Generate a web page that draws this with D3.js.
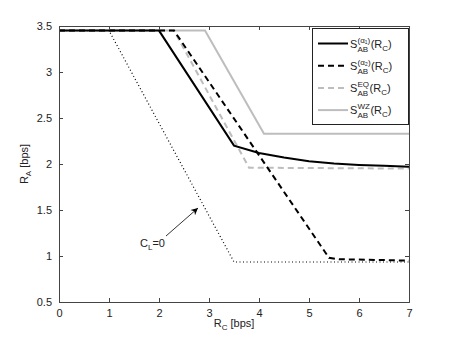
<!DOCTYPE html>
<html>
<head>
<meta charset="utf-8">
<script src="https://cdn.jsdelivr.net/npm/d3@7"></script>
<style>
  body { margin: 0; background: #fff; }
  text { font-family: "Liberation Sans", Arial, sans-serif; fill: #222; }
</style>
</head>
<body>
<svg width="452" height="340"></svg>
<script>
// series values
let rcAlpha1 = [0, 2, 3.5, 4, 4.5, 5, 5.5, 6, 6.5, 7];
let raAlpha1 = [3.45, 3.45, 2.2, 2.12, 2.07, 2.03, 2.005, 1.99, 1.98, 1.97];

let rcAlpha2 = [0, 2.3, 5.4, 5.6, 7];
let raAlpha2 = [3.45, 3.45, 0.98, 0.965, 0.95];

let rcEQ = [0, 2.3, 3.8, 7];
let raEQ = [3.45, 3.45, 1.96, 1.95];

let rcWZ = [0, 2.92, 4.1, 7];
let raWZ = [3.45, 3.45, 2.33, 2.33];

let rcCL0 = [0, 1, 3.5, 7];
let raCL0 = [3.45, 3.45, 0.935, 0.935];

let xTicks = [0, 1, 2, 3, 4, 5, 6, 7];
let yTicks = [0.5, 1, 1.5, 2, 2.5, 3, 3.5];

let svg = d3.select("svg");
let plotLeft = 59, plotRight = 409, plotTop = 26, plotBottom = 302;

let x = d3.scaleLinear().domain([0, 7]).range([plotLeft, plotRight]);
let y = d3.scaleLinear().domain([0.5, 3.5]).range([plotBottom, plotTop]);

let series = [
  { xs: rcCL0, ys: raCL0, color: "#000", width: 1.2, dash: "1,2.5" },
  { xs: rcWZ, ys: raWZ, color: "#bdbdbd", width: 2, dash: null },
  { xs: rcEQ, ys: raEQ, color: "#bdbdbd", width: 2, dash: "6,4" },
  { xs: rcAlpha2, ys: raAlpha2, color: "#000", width: 2, dash: "6,4" },
  { xs: rcAlpha1, ys: raAlpha1, color: "#000", width: 2, dash: null }
];

let line = d3
  .line()
  .x((d) => x(d[0]))
  .y((d) => y(d[1]));

svg
  .selectAll("path.series")
  .data(series)
  .enter()
  .append("path")
  .attr("class", "series")
  .attr("d", (s) => line(s.xs.map((v, i) => [v, s.ys[i]])))
  .attr("fill", "none")
  .attr("stroke", (s) => s.color)
  .attr("stroke-width", (s) => s.width)
  .attr("stroke-dasharray", (s) => s.dash);

// axes box, ticks inward on all sides
let gx = svg.append("g").attr("transform", `translate(0,${plotBottom})`)
  .call(d3.axisBottom(x).tickValues(xTicks).tickSize(-4).tickPadding(7).tickFormat(d3.format("")));
let gxTop = svg.append("g").attr("transform", `translate(0,${plotTop})`)
  .call(d3.axisTop(x).tickValues(xTicks).tickSize(-4).tickFormat(""));
let gy = svg.append("g").attr("transform", `translate(${plotLeft},0)`)
  .call(d3.axisLeft(y).tickValues(yTicks).tickSize(-4).tickPadding(7).tickFormat(d3.format("")));
let gyRight = svg.append("g").attr("transform", `translate(${plotRight},0)`)
  .call(d3.axisRight(y).tickValues(yTicks).tickSize(-4).tickFormat(""));

[gx, gxTop, gy, gyRight].forEach((g) => {
  g.select(".domain").attr("stroke", "#444");
  g.selectAll(".tick line").attr("stroke", "#444");
  g.selectAll("text").attr("font-size", 11).attr("fill", "#222")
    .style("font-family", "'Liberation Sans', Arial, sans-serif");
});

// axis labels
let xl = svg.append("text").attr("x", x(3.5)).attr("y", 327).attr("text-anchor", "middle").attr("font-size", 11);
xl.append("tspan").text("R");
xl.append("tspan").attr("font-size", 8).attr("dy", 3).text("C");
xl.append("tspan").attr("dy", -3).text(" [bps]");

let yl = svg.append("text").attr("transform", `translate(28,${y(2)}) rotate(-90)`).attr("text-anchor", "middle").attr("font-size", 11);
yl.append("tspan").text("R");
yl.append("tspan").attr("font-size", 8).attr("dy", 3).text("A");
yl.append("tspan").attr("dy", -3).text(" [bps]");

// annotation
let ann = svg.append("text").attr("x", 140).attr("y", 247).attr("font-size", 11);
ann.append("tspan").text("C");
ann.append("tspan").attr("font-size", 8).attr("dy", 3).text("L");
ann.append("tspan").attr("dy", -3).text("=0");

svg.append("defs").append("marker")
  .attr("id", "arrow").attr("viewBox", "0 0 10 10").attr("refX", 10).attr("refY", 5)
  .attr("markerWidth", 9).attr("markerHeight", 7).attr("orient", "auto")
  .attr("markerUnits", "userSpaceOnUse")
  .append("path").attr("d", "M0,0 L10,5 L0,10 L3,5 Z").attr("fill", "#000");

svg.append("line")
  .attr("x1", 166).attr("y1", 236).attr("x2", 198).attr("y2", 208)
  .attr("stroke", "#000").attr("stroke-width", 0.8)
  .attr("marker-end", "url(#arrow)");

// legend
let legendSup = ["(α₁)", "(α₂)", "EQ", "WZ"];
let legendSub = "AB";
let legendSeries = [series[4], series[3], series[2], series[1]];

let lg = svg.append("g");
lg.append("rect").attr("x", 312.5).attr("y", 28.5).attr("width", 96).attr("height", 96)
  .attr("fill", "#fff").attr("stroke", "#222").attr("stroke-width", 1);

let rows = lg.selectAll("g.row").data(legendSeries).enter().append("g")
  .attr("class", "row")
  .attr("transform", (d, i) => `translate(0,${43.5 + i * 22.2})`);

rows.append("line")
  .attr("x1", 318).attr("x2", 348).attr("y1", 0).attr("y2", 0)
  .attr("stroke", (d) => d.color).attr("stroke-width", 2)
  .attr("stroke-dasharray", (d) => d.dash);

rows.each(function (d, i) {
  let row = d3.select(this);
  row.append("text").attr("x", 350).attr("y", 4).attr("font-size", 11).text("S");
  let sup = row.append("text").attr("x", 357.5).attr("y", -1).attr("font-size", 8).text(legendSup[i]);
  let sub = row.append("text").attr("x", 357.5).attr("y", 8).attr("font-size", 8).text(legendSub);
  let w = Math.max(sup.node().getComputedTextLength(), sub.node().getComputedTextLength());
  let t = row.append("text").attr("x", 357.5 + w + 0.5).attr("y", 4).attr("font-size", 11);
  t.append("tspan").text("(R");
  t.append("tspan").attr("font-size", 8).attr("dy", 3).text("C");
  t.append("tspan").attr("dy", -3).text(")");
});
</script>
</body>
</html>
